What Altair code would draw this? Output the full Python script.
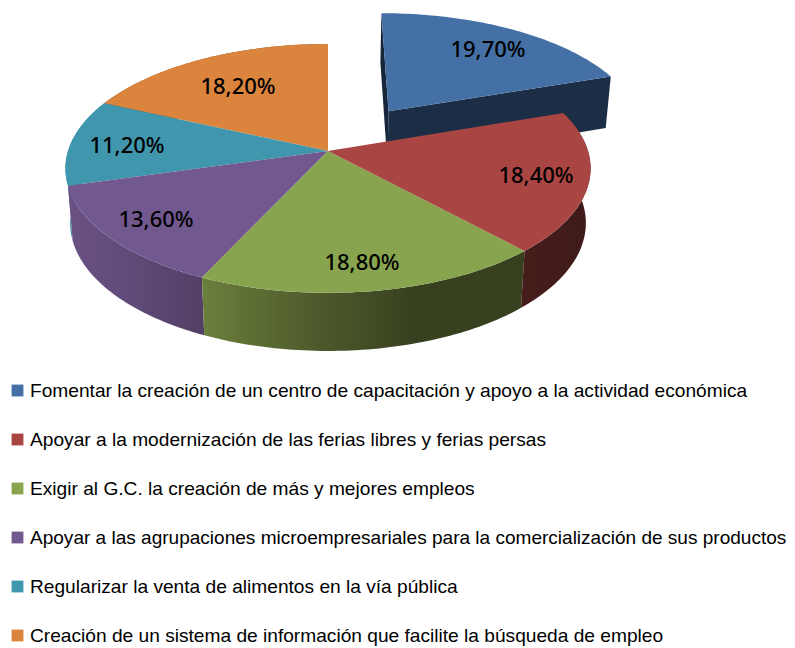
import math
import altair as alt
import pandas as pd

# ---- data
categories = [
    "Fomentar la creación de un centro de capacitación y apoyo a la actividad económica",
    "Apoyar a la modernización de las ferias libres y ferias persas",
    "Exigir al G.C.  la creación de más y mejores empleos",
    "Apoyar a las agrupaciones microempresariales para la comercialización de sus productos",
    "Regularizar la venta de alimentos en la vía pública",
    "Creación de un sistema de información que facilite la búsqueda de empleo",
]
values = [19.7, 18.4, 18.8, 13.6, 11.2, 18.2]
labels = ["19,70%", "18,40%", "18,80%", "13,60%", "11,20%", "18,20%"]
explode = [0.42, 0, 0, 0, 0, 0]

# ---- styles and layout
top_colors = ["#4470a5", "#a94543", "#88a44e", "#71588f", "#4097ad", "#db843d"]
wall_stops = [
    ["#1c2e46", "#1c2e46"],
    ["#451d1b", "#3f1a19"],
    ["#6b7f3d", "#4f5c2c", "#37401f", "#37401f"],
    ["#6a5284", "#5f4a78", "#523f65"],
    ["#3f93a8", "#34788a"],
    ["#8a5225", "#8a5225"],
]
label_px = [(488, 50), (536, 176), (362, 263), (156, 220), (127, 146), (238, 87)]
legend_y = [390.5, 439.5, 488.5, 537.5, 586.5, 635.5]
legend_size = [19.15, 19.15, 19.15, 19.05, 19.15, 19.15]
MARGIN = 8
CX, CY, RX, RY, K, H = 328, 151, 260, 122, 0.14, 54
BOTTOM_SHRINK = 0.982


def project(X, Y, drop=0.0):
    d = 1 + K * Y
    shrink = BOTTOM_SHRINK if drop else 1.0
    return [CX + RX * X / d * shrink - MARGIN,
            CY - RY * Y / d + drop / (1 + 0.5 * K * Y) - MARGIN]


def arc(t0, t1, ox, oy, drop=0.0, n=60):
    pts = []
    for i in range(n + 1):
        t = math.radians(t0 + (t1 - t0) * i / n)
        pts.append(project(ox + math.sin(t), oy + math.cos(t), drop))
    return pts


def shape(pts):
    return {"type": "Feature", "properties": {},
            "geometry": {"type": "Polygon", "coordinates": [pts + [pts[0]]]}}


def geo(pts, fill):
    return alt.Chart(alt.Data(values=[shape(pts)])).mark_geoshape(
        fill=fill, stroke=None, strokeWidth=0
    ).project(type="identity", scale=1, translate=[0, 0])


def grad(stops):
    n = len(stops) - 1
    return alt.Gradient(
        gradient="linear", x1=0, x2=1, y1=0, y2=0,
        stops=[alt.GradientStop(offset=i / n, color=c) for i, c in enumerate(stops)],
    )


total = sum(values)
edges = [0.0]
for v in values:
    edges.append(edges[-1] + v / total * 360)

walls, tops = [], []
for i in [0, 5, 4, 3, 2, 1]:
    t0, t1 = edges[i], edges[i + 1]
    mid = math.radians((t0 + t1) / 2)
    ox, oy = explode[i] * math.sin(mid), explode[i] * math.cos(mid)
    rim = arc(t0, t1, ox, oy)
    rim_low = arc(t0, t1, ox, oy, H)
    apex = project(ox, oy)
    apex_low = project(ox, oy, H)
    if explode[i]:
        # cut faces of the pulled-out slice
        walls.append(geo([apex, rim[0], rim_low[0], apex_low], "#16263a"))
        walls.append(geo([apex, rim[-1], rim_low[-1], apex_low], "#1c2e46"))
    else:
        walls.append(geo(rim + rim_low[::-1], grad(wall_stops[i])))
    tops.append(geo([apex] + rim, top_colors[i]))

# pulled-out slice sits behind the rest of the pie
blue_layers = walls[:2] + tops[:1]
rest_layers = walls[2:] + tops[1:]

label_df = pd.DataFrame({
    "label": labels,
    "px": [p[0] - MARGIN for p in label_px],
    "py": [p[1] - MARGIN for p in label_px],
})
label_layer = alt.Chart(label_df).mark_text(
    font="Noto Sans", fontSize=22, fontWeight=500, color="#000000", align="center", baseline="middle"
).encode(
    x=alt.X("px:Q", scale=None, axis=None),
    y=alt.Y("py:Q", scale=None, axis=None),
    text="label:N",
)

legend_df = pd.DataFrame({
    "name": categories,
    "color": top_colors,
    "fs": legend_size,
    "sx": [17.5 - MARGIN] * 6,
    "tx": [30 - MARGIN] * 6,
    "ly": [y - MARGIN for y in legend_y],
})
legend_marks = alt.Chart(legend_df).mark_square(size=140, opacity=1, filled=True).encode(
    x=alt.X("sx:Q", scale=None, axis=None),
    y=alt.Y("ly:Q", scale=None, axis=None),
    color=alt.Color("color:N", scale=None, legend=None),
)
legend_text = alt.Chart(legend_df).mark_text(
    font="Liberation Sans", color="#000000", align="left", baseline="middle"
).encode(
    x=alt.X("tx:Q", scale=None, axis=None),
    y=alt.Y("ly:Q", scale=None, axis=None),
    size=alt.Size("fs:Q", scale=None, legend=None),
    text="name:N",
)

chart = alt.layer(
    *blue_layers, *rest_layers, label_layer, legend_marks, legend_text
).properties(
    width=779, height=640, padding=0, background="#ffffff",
    autosize=alt.AutoSizeParams(type="none"),
).configure_view(stroke=None)

chart.save("out.html", embed_options={"renderer": "svg", "actions": False})
